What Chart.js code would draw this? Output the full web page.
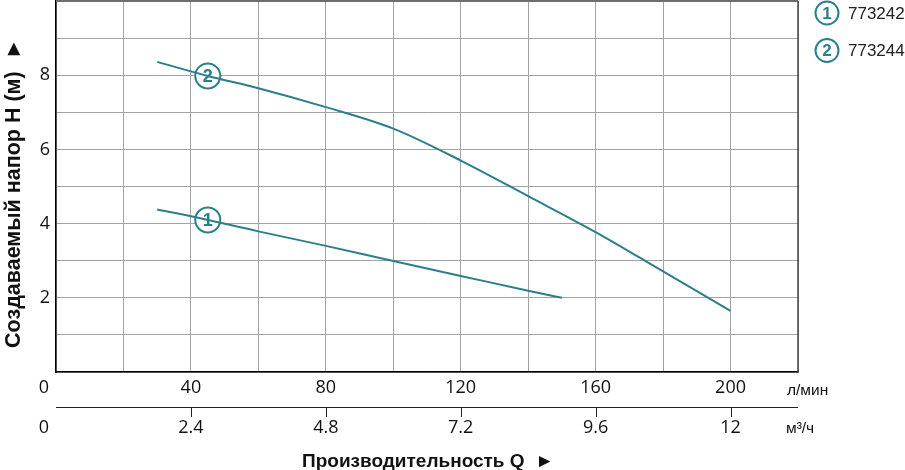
<!DOCTYPE html>
<html>
<head>
<meta charset="utf-8">
<script src="https://cdn.jsdelivr.net/npm/chart.js@4.4.1/dist/chart.umd.min.js"></script>
<style>
  body { margin: 0; background: #fff; }
  #wrap { width: 905px; height: 470px; }
</style>
</head>
<body>
<div id="wrap"><canvas id="pumpChart" width="905" height="470"></canvas></div>
<script>
// Кривые насосов (Q в л/мин, H в м)
const pump1Name = '773242';
const pump1Q = [30, 40, 60, 80, 100, 120, 140, 150];
const pump1H = [4.38, 4.2, 3.79, 3.4, 2.99, 2.59, 2.19, 2.0];

const pump2Name = '773244';
const pump2Q = [30, 45, 60, 80, 100, 120, 140, 160, 180, 200];
const pump2H = [8.36, 7.98, 7.65, 7.14, 6.56, 5.7, 4.74, 3.77, 2.71, 1.65];

// метки с номерами на кривых
const markerNums = ['1', '2'];
const markerQ = [45, 45];
const markerH = [4.1, 7.98];

// подписи осей
const lpmTicks = [0, 40, 80, 120, 160, 200];
const m3hTicks = ['0', '2.4', '4.8', '7.2', '9.6', '12'];
const headTicks = [2, 4, 6, 8];

const teal = '#2b7e8c';
const gridColor = '#a3a3a3';

function toPoints(xs, ys) {
  return xs.map((x, i) => ({ x, y: ys[i] }));
}

const labelsPlugin = {
  id: 'labelsPlugin',
  afterDraw(chart) {
    const ctx = chart.ctx;
    const xs = chart.scales.x;
    const ys = chart.scales.y;
    const area = chart.chartArea;
    ctx.save();

    // рамка сверху и справа
    ctx.strokeStyle = '#6e6e6e';
    ctx.lineWidth = 2;
    ctx.beginPath();
    ctx.moveTo(area.left, area.top);
    ctx.lineTo(area.right, area.top);
    ctx.stroke();
    ctx.strokeStyle = '#444';
    ctx.lineWidth = 1.5;
    ctx.beginPath();
    ctx.moveTo(area.right, area.top);
    ctx.lineTo(area.right, area.bottom);
    ctx.stroke();

    ctx.fillStyle = '#111';
    ctx.font = '18px "Open Sans"';
    ctx.textBaseline = 'middle';

    // ось Y
    ctx.textAlign = 'center';
    headTicks.forEach(v => {
      ctx.fillText(String(v), area.left - 11, ys.getPixelForValue(v));
    });

    // ось л/мин
    const row1 = area.bottom + 16;
    lpmTicks.forEach(v => {
      const px = v === 0 ? area.left - 12 : xs.getPixelForValue(v);
      ctx.fillText(String(v), px, row1);
    });

    // вторая ось м³/ч
    const axis2 = area.bottom + 35;
    ctx.strokeStyle = '#222';
    ctx.lineWidth = 1;
    ctx.beginPath();
    ctx.moveTo(area.left, axis2 + 0.5);
    ctx.lineTo(area.right, axis2 + 0.5);
    lpmTicks.forEach(v => {
      if (v === 0) return;
      const px = Math.round(xs.getPixelForValue(v)) + 0.5;
      ctx.moveTo(px, axis2);
      ctx.lineTo(px, axis2 + 10);
    });
    ctx.stroke();

    const row2 = area.bottom + 56;
    m3hTicks.forEach((t, i) => {
      const v = lpmTicks[i];
      const px = v === 0 ? area.left - 12 : xs.getPixelForValue(v);
      ctx.fillText(t, px, row2);
    });

    ctx.textAlign = 'left';
    ctx.font = '15.5px "Liberation Sans"';
    ctx.fillText('л/мин', area.right - 11, row1 + 3);
    ctx.fillText('м³/ч', area.right - 12, row2 + 1);

    // заголовки осей
    ctx.font = 'bold 19px "Liberation Sans"';
    ctx.textAlign = 'center';
    ctx.fillText('Производительность Q  ►', 428, 462);

    ctx.save();
    ctx.translate(14, 193);
    ctx.rotate(-Math.PI / 2);
    ctx.font = 'bold 21.5px "Liberation Sans"';
    ctx.fillText('Создаваемый напор Н (м)  ►', 0, 0);
    ctx.restore();

    // номера на метках
    const meta = chart.getDatasetMeta(2);
    ctx.fillStyle = teal;
    ctx.font = 'bold 18px "Liberation Sans"';
    meta.data.forEach((pt, i) => {
      ctx.fillText(markerNums[i], pt.x, pt.y + 1);
    });

    // легенда
    [pump1Name, pump2Name].forEach((name, i) => {
      const cy = 13 + i * 37.5;
      ctx.beginPath();
      ctx.arc(827, cy, 11.5, 0, Math.PI * 2);
      ctx.fillStyle = '#fff';
      ctx.fill();
      ctx.strokeStyle = teal;
      ctx.lineWidth = 2;
      ctx.stroke();
      ctx.fillStyle = teal;
      ctx.textAlign = 'center';
      ctx.font = 'bold 17px "Liberation Sans"';
      ctx.fillText(String(i + 1), 827, cy + 1);
      ctx.fillStyle = '#222';
      ctx.textAlign = 'left';
      ctx.font = '17px "Liberation Sans"';
      ctx.fillText(name, 848, cy + 1);
    });

    ctx.restore();
  }
};

new Chart(document.getElementById('pumpChart').getContext('2d'), {
  type: 'line',
  data: {
    datasets: [
      {
        label: pump1Name,
        data: toPoints(pump1Q, pump1H),
        borderColor: teal,
        borderWidth: 2,
        pointRadius: 0,
        cubicInterpolationMode: 'monotone'
      },
      {
        label: pump2Name,
        data: toPoints(pump2Q, pump2H),
        borderColor: teal,
        borderWidth: 2,
        pointRadius: 0,
        cubicInterpolationMode: 'monotone'
      },
      {
        label: 'markers',
        data: toPoints(markerQ, markerH),
        showLine: false,
        pointRadius: 12.5,
        pointBackgroundColor: '#fff',
        pointBorderColor: teal,
        pointBorderWidth: 2
      }
    ]
  },
  options: {
    responsive: false,
    animation: false,
    layout: { autoPadding: false, padding: { left: 56, top: 1, right: 107, bottom: 98 } },
    plugins: {
      legend: { display: false },
      tooltip: { enabled: false }
    },
    scales: {
      x: {
        type: 'linear',
        min: 0,
        max: 220,
        ticks: { display: false, stepSize: 20 },
        grid: { color: gridColor, drawTicks: false },
        border: { color: '#000', width: 1.5 }
      },
      y: {
        min: 0,
        max: 10,
        ticks: { display: false, stepSize: 1 },
        grid: { color: gridColor, drawTicks: false },
        border: { color: '#000', width: 1.5 }
      }
    }
  },
  plugins: [labelsPlugin]
});
</script>
</body>
</html>
